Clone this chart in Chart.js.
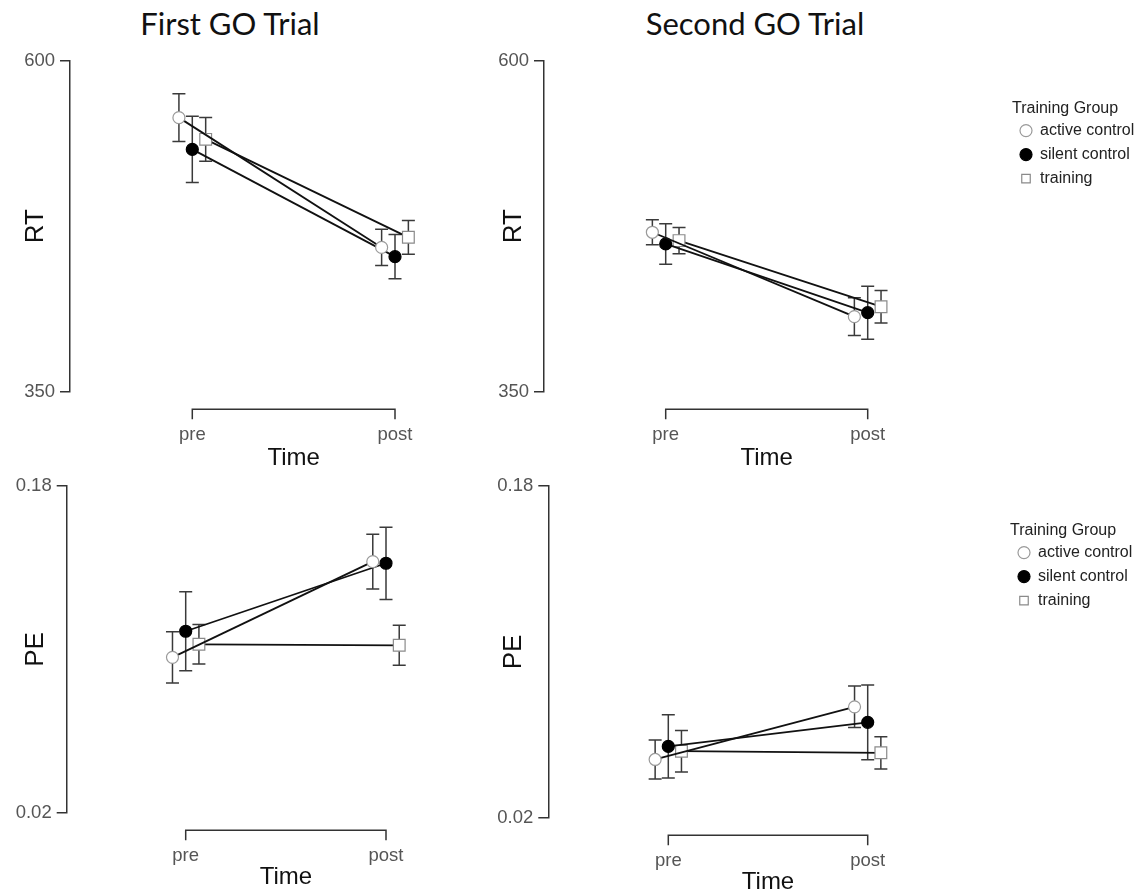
<!DOCTYPE html>
<html>
<head>
<meta charset="utf-8">
<script src="https://cdn.jsdelivr.net/npm/chart.js@4.4.1/dist/chart.umd.min.js"></script>
<style>
html, body { margin:0; padding:0; width:1137px; height:895px; overflow:hidden; background:#fff; }
canvas { position:absolute; }
.ptitle { position:absolute; font-family:Lato, 'Open Sans', sans-serif; font-size:31px; line-height:31px; color:#111; text-align:center; width:400px; white-space:nowrap; }
</style>
</head>
<body>
<div class="ptitle" style="left:30px; top:8px;">First GO Trial</div>
<div class="ptitle" style="left:555px; top:8px;">Second GO Trial</div>
<canvas id="c1"></canvas>
<canvas id="c2"></canvas>
<canvas id="c3"></canvas>
<canvas id="c4"></canvas>
<canvas id="leg1"></canvas>
<canvas id="leg2"></canvas>
<script>
// ---------------- DATA ----------------
const groups = ['active control', 'silent control', 'training'];
const timeLabels = ['pre', 'post'];
const legendTitle = 'Training Group';

const rtTicks = [350, 600];
const rtTickLabels = ['350', '600'];
const peTicks = [0.02, 0.18];
const peTickLabels = ['0.02', '0.18'];

// First GO trial, RT (means per group: [pre, post]) and error half-widths
const rt1Means  = [[557, 459], [533, 452], [540.6, 466.6]];
const rt1Errors = [[18, 13.7], [25, 16.7], [16.5, 12.7]];
// Second GO trial, RT
const rt2Means  = [[470.4, 406.7], [461.6, 409.7], [464.1, 414.2]];
const rt2Errors = [[9.5, 14.3], [15.3, 20], [10, 12.3]];
// First GO trial, PE
const pe1Means  = [[0.0961, 0.1430], [0.1089, 0.1422], [0.1025, 0.1020]];
const pe1Errors = [[0.0126, 0.0134], [0.0193, 0.0177], [0.0097, 0.0098]];
// Second GO trial, PE
const pe2Means  = [[0.0481, 0.0735], [0.0544, 0.0660], [0.0521, 0.0513]];
const pe2Errors = [[0.0094, 0.0100], [0.0153, 0.0180], [0.0100, 0.0078]];

// ---------------- STYLE ----------------
Chart.defaults.font.family = "'Liberation Sans', Arial, sans-serif";
const dodge = [-0.066, 0, 0.066];
const groupStyles = [
  { pointStyle: 'circle', radius: 6,   fill: '#ffffff', stroke: '#9a9a9a' },
  { pointStyle: 'circle', radius: 6,   fill: '#000000', stroke: '#000000' },
  { pointStyle: 'rect',   radius: 8.3, fill: '#ffffff', stroke: '#8a8a8a' }
];

const errorBarPlugin = {
  id: 'errorBars',
  beforeDatasetsDraw(chart) {
    const ctx = chart.ctx, xs = chart.scales.x, ys = chart.scales.y;
    ctx.save();
    ctx.strokeStyle = '#3a3a3a';
    ctx.lineWidth = 1.5;
    chart.data.datasets.forEach(ds => {
      if (!ds.errors) return;
      ds.data.forEach((p, j) => {
        const px = xs.getPixelForValue(p.x);
        const top = ys.getPixelForValue(p.y + ds.errors[j]);
        const bot = ys.getPixelForValue(p.y - ds.errors[j]);
        ctx.beginPath();
        ctx.moveTo(px, top); ctx.lineTo(px, bot);
        ctx.moveTo(px - 6.5, top); ctx.lineTo(px + 6.5, top);
        ctx.moveTo(px - 6.5, bot); ctx.lineTo(px + 6.5, bot);
        ctx.stroke();
      });
    });
    ctx.restore();
  }
};

const bracketPlugin = {
  id: 'rangeFrameX',
  afterDraw(chart) {
    const ctx = chart.ctx, xs = chart.scales.x;
    const ticks = xs.ticks;
    const x1 = xs.getPixelForValue(ticks[0].value);
    const x2 = xs.getPixelForValue(ticks[ticks.length - 1].value);
    const y0 = chart.chartArea.bottom + 17.5;
    ctx.save();
    ctx.strokeStyle = '#333';
    ctx.lineWidth = 1.5;
    ctx.beginPath();
    ctx.moveTo(x1, y0 + 10); ctx.lineTo(x1, y0); ctx.lineTo(x2, y0); ctx.lineTo(x2, y0 + 10);
    ctx.stroke();
    ctx.restore();
  }
};

const panels = [
  { id: 'c1', left: 0,   top: 0,   width: 530, height: 473, axisX: 70,    yTop: 60.7,  yBot: 391.7, pre: 192.3, post: 395,   yTitleX: 35.8,
    means: rt1Means, errors: rt1Errors, yTicks: rtTicks, yTickLabels: rtTickLabels, yTitle: 'RT' },
  { id: 'c2', left: 470, top: 0,   width: 530, height: 473, axisX: 544,   yTop: 60.7,  yBot: 391.7, pre: 665.7, post: 867.7, yTitleX: 514.2,
    means: rt2Means, errors: rt2Errors, yTicks: rtTicks, yTickLabels: rtTickLabels, yTitle: 'RT' },
  { id: 'c3', left: 0,   top: 470, width: 530, height: 422, axisX: 66.7,  yTop: 481,   yBot: 812.7, pre: 185.7, post: 386,   yTitleX: 35.5,
    means: pe1Means, errors: pe1Errors, yTicks: peTicks, yTickLabels: peTickLabels, yTitle: 'PE' },
  { id: 'c4', left: 470, top: 470, width: 530, height: 427, axisX: 548.3, yTop: 485.7, yBot: 817.7, pre: 668.3, post: 867.7, yTitleX: 514.2,
    means: pe2Means, errors: pe2Errors, yTicks: peTicks, yTickLabels: peTickLabels, yTitle: 'PE' }
];

function makePanel(cfg) {
  const cv = document.getElementById(cfg.id);
  cv.width = cfg.width; cv.height = cfg.height;
  cv.style.left = cfg.left + 'px'; cv.style.top = cfg.top + 'px';
  const unit = cfg.post - cfg.pre;
  const side = (cfg.pre - cfg.axisX) / unit;
  const chartRight = cfg.post + (cfg.pre - cfg.axisX);
  const yTitleSize = 26, yTitleLH = yTitleSize * 1.2;
  new Chart(cv, {
    type: 'line',
    data: {
      datasets: groups.map((g, i) => ({
        label: g,
        data: cfg.means[i].map((m, j) => ({ x: j + 1 + dodge[i], y: m })),
        errors: cfg.errors[i],
        borderColor: '#111',
        borderWidth: 1.8,
        fill: false,
        tension: 0,
        pointStyle: groupStyles[i].pointStyle,
        pointRadius: groupStyles[i].radius,
        pointBackgroundColor: groupStyles[i].fill,
        pointBorderColor: groupStyles[i].stroke,
        pointBorderWidth: 1.2,
        clip: false
      }))
    },
    options: {
      responsive: false,
      animation: false,
      devicePixelRatio: 1,
      layout: { padding: { left: 0, top: cfg.yTop - cfg.top, right: (cfg.left + cfg.width) - chartRight, bottom: 0 } },
      scales: {
        x: {
          type: 'linear', position: 'bottom', min: 1 - side, max: 2 + side,
          afterBuildTicks: s => { s.ticks = timeLabels.map((t, i) => ({ value: i + 1 })); },
          afterFit: s => { s.height = cfg.top + cfg.height - cfg.yBot; },
          grid: { display: false },
          border: { display: false },
          ticks: { callback: (v, i) => timeLabels[i], padding: 24, color: '#555', font: { size: 18.5 }, maxRotation: 0, autoSkip: false },
          title: { display: true, text: 'Time', color: '#111', font: { size: 24 }, padding: { top: 0, bottom: 0 } }
        },
        y: {
          type: 'linear', min: cfg.yTicks[0], max: cfg.yTicks[cfg.yTicks.length - 1],
          afterBuildTicks: s => { s.ticks = cfg.yTicks.map(v => ({ value: v })); },
          afterFit: s => { s.width = cfg.axisX - cfg.left; },
          grid: { display: true, drawOnChartArea: false, drawTicks: true, tickLength: 10, color: '#333', lineWidth: 1.5 },
          border: { display: true, color: '#333', width: 1.5 },
          ticks: { callback: (v, i) => cfg.yTickLabels[i], padding: 5, color: '#555', font: { size: 18.5 } },
          title: { display: true, text: cfg.yTitle, color: '#111', font: { size: yTitleSize }, padding: { top: cfg.yTitleX - cfg.left - yTitleLH / 2, bottom: 0 } }
        }
      },
      plugins: { legend: { display: false }, tooltip: { enabled: false } }
    },
    plugins: [errorBarPlugin, bracketPlugin]
  });
}
panels.forEach(makePanel);

// ---------------- LEGENDS ----------------
const legendBoxes = [
  { id: 'leg1', left: 1012, top: 101, width: 300, height: 95 },
  { id: 'leg2', left: 1010, top: 523, width: 300, height: 95 }
];
function makeLegend(cfg) {
  const cv = document.getElementById(cfg.id);
  cv.width = cfg.width; cv.height = cfg.height;
  cv.style.left = cfg.left + 'px'; cv.style.top = cfg.top + 'px';
  new Chart(cv, {
    type: 'line',
    data: {
      datasets: groups.map((g, i) => ({
        label: g, data: [],
        pointStyle: groupStyles[i].pointStyle,
        pointBackgroundColor: groupStyles[i].fill,
        pointBorderColor: groupStyles[i].stroke,
        pointBorderWidth: 1.2,
        backgroundColor: groupStyles[i].fill,
        borderColor: groupStyles[i].stroke
      }))
    },
    options: {
      responsive: false, animation: false, devicePixelRatio: 1,
      layout: { padding: 0 },
      scales: { x: { display: false }, y: { display: false } },
      plugins: {
        tooltip: { enabled: false },
        legend: {
          position: 'left', align: 'start', maxWidth: 200,
          title: { display: true, text: legendTitle, position: 'start', color: '#222', font: { size: 16, lineHeight: 0.85 }, padding: { top: 0, bottom: 0 } },
          labels: { usePointStyle: true, boxWidth: 12, boxHeight: 8.5, padding: 8, color: '#222', font: { size: 16 } }
        }
      }
    }
  });
}
legendBoxes.forEach(makeLegend);
</script>
</body>
</html>
